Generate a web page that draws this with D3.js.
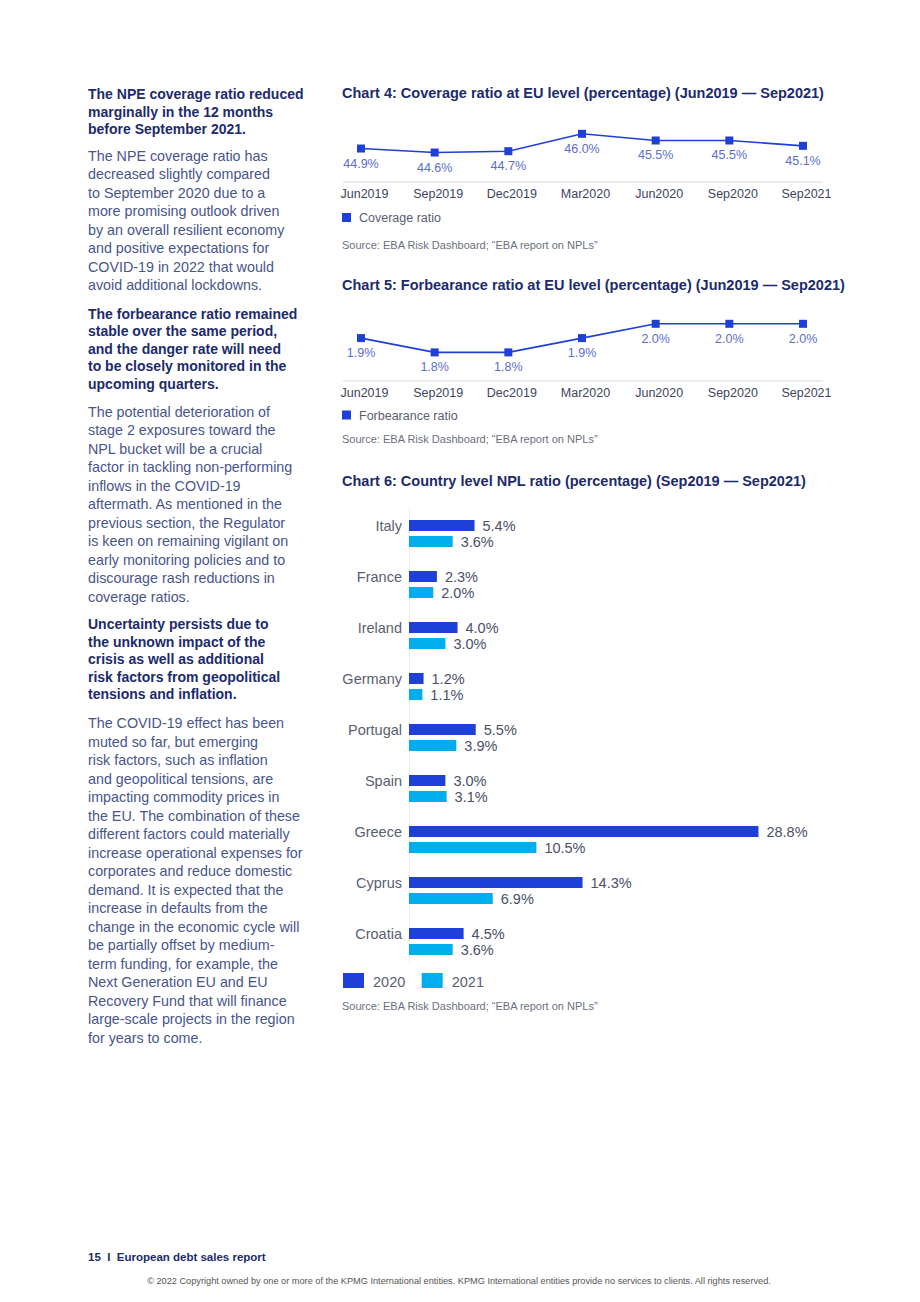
<!DOCTYPE html>
<html>
<head>
<meta charset="utf-8">
<script src="https://cdn.jsdelivr.net/npm/d3@7"></script>
<style>
  html, body { margin: 0; padding: 0; background: #fff; }
  svg { display: block; }
  text { font-family: "Liberation Sans", Arial, sans-serif; }
</style>
</head>
<body>
<svg id="page" width="920" height="1302"></svg>
<script>
// ---------- DATA ----------
const quarters = ["Jun2019", "Sep2019", "Dec2019", "Mar2020", "Jun2020", "Sep2020", "Sep2021"];
const coverageRatio = [44.9, 44.6, 44.7, 46.0, 45.5, 45.5, 45.1];
const forbearanceRatio = [1.9, 1.8, 1.8, 1.9, 2.0, 2.0, 2.0];
const countries = ["Italy", "France", "Ireland", "Germany", "Portugal", "Spain", "Greece", "Cyprus", "Croatia"];
const npl2020 = [5.4, 2.3, 4.0, 1.2, 5.5, 3.0, 28.8, 14.3, 4.5];
const npl2021 = [3.6, 2.0, 3.0, 1.1, 3.9, 3.1, 10.5, 6.9, 3.6];
const years = ["2020", "2021"];

const heading1 = ["The NPE coverage ratio reduced", "marginally in the 12 months", "before September 2021."];
const body1 = ["The NPE coverage ratio has", "decreased slightly compared", "to September 2020 due to a",
  "more promising outlook driven", "by an overall resilient economy", "and positive expectations for",
  "COVID-19 in 2022 that would", "avoid additional lockdowns."];
const heading2 = ["The forbearance ratio remained", "stable over the same period,", "and the danger rate will need",
  "to be closely monitored in the", "upcoming quarters."];
const body2 = ["The potential deterioration of", "stage 2 exposures toward the", "NPL bucket will be a crucial",
  "factor in tackling non-performing", "inflows in the COVID-19", "aftermath. As mentioned in the",
  "previous section, the Regulator", "is keen on remaining vigilant on", "early monitoring policies and to",
  "discourage rash reductions in", "coverage ratios."];
const heading3 = ["Uncertainty persists due to", "the unknown impact of the", "crisis as well as additional",
  "risk factors from geopolitical", "tensions and inflation."];
const body3 = ["The COVID-19 effect has been", "muted so far, but emerging", "risk factors, such as inflation",
  "and geopolitical tensions, are", "impacting commodity prices in", "the EU. The combination of these",
  "different factors could materially", "increase operational expenses for", "corporates and reduce domestic",
  "demand. It is expected that the", "increase in defaults from the", "change in the economic cycle will",
  "be partially offset by medium-", "term funding, for example, the", "Next Generation EU and EU",
  "Recovery Fund that will finance", "large-scale projects in the region", "for years to come."];

const source = "Source: EBA Risk Dashboard; \u201CEBA report on NPLs\u201D";

// ---------- STYLE ----------
const NAVY = "#1c2b6c";
const BODY = "#48558c";
const BLUE = "#1e3fd8";
const CYAN = "#00aeef";
const AXISTXT = "#3d4560";
const LBLBLUE = "#5a6dd0";
const GRAY = "#5a6072";
const SRC = "#6b7080";

const svg = d3.select("#page");

// ---------- LEFT COLUMN ----------
function block(lines, y0, step, opts) {
  svg.append("g").selectAll("text").data(lines).join("text")
    .attr("x", 88)
    .attr("y", (d, i) => y0 + i * step)
    .attr("fill", opts.color)
    .attr("font-size", opts.size)
    .attr("font-weight", opts.weight)
    .text(d => d);
}
const H = { color: NAVY, size: 14, weight: 700 };
const B = { color: BODY, size: 14.3, weight: 400 };
block(heading1, 99, 17.5, H);
block(body1, 161, 18.45, B);
block(heading2, 318.5, 17.5, H);
block(body2, 416.7, 18.5, B);
block(heading3, 629.3, 17.5, H);
block(body3, 728.3, 18.5, B);

// ---------- LINE CHARTS ----------
function lineChart(cfg) {
  const g = svg.append("g");
  g.append("text").attr("x", 342).attr("y", cfg.titleY)
    .attr("fill", NAVY).attr("font-size", 14.5).attr("font-weight", 700).text(cfg.title);

  const x = d3.scalePoint().domain(quarters).range([361, 803]);
  const y = d3.scaleLinear().domain(cfg.domain).range([cfg.axisY, cfg.axisY - cfg.domainPx]);

  // baseline axis
  const axis = g.append("g").attr("transform", `translate(0,${cfg.axisY})`)
    .call(d3.axisBottom(x).tickSize(0).tickPadding(7));
  axis.select(".domain").attr("d", `M343,0H823`).attr("stroke", "#e6e6e6").attr("stroke-width", 1.5);
  axis.selectAll(".tick text").attr("fill", AXISTXT).attr("font-size", 12.5)
    .attr("dx", 3)
    .attr("font-family", "\"Liberation Sans\", Arial, sans-serif");

  const data = quarters.map((q, i) => ({ q, v: cfg.values[i] }));
  g.append("path").datum(data)
    .attr("fill", "none").attr("stroke", BLUE).attr("stroke-width", 1.6)
    .attr("d", d3.line().x(d => x(d.q)).y(d => y(d.v)));
  g.selectAll("rect.m").data(data).join("rect").attr("class", "m")
    .attr("x", d => x(d.q) - 4).attr("y", d => y(d.v) - 4)
    .attr("width", 8).attr("height", 8).attr("fill", BLUE);
  g.selectAll("text.v").data(data).join("text").attr("class", "v")
    .attr("x", d => x(d.q)).attr("y", d => y(d.v) + 19)
    .attr("text-anchor", "middle").attr("fill", LBLBLUE).attr("font-size", 12.5)
    .text(d => d.v.toFixed(1) + "%");

  // legend
  g.append("rect").attr("x", 342).attr("y", cfg.legendY - 9).attr("width", 9).attr("height", 9).attr("fill", BLUE);
  g.append("text").attr("x", 359).attr("y", cfg.legendY).attr("fill", GRAY).attr("font-size", 12.5).text(cfg.legend);
  g.append("text").attr("x", 342).attr("y", cfg.sourceY).attr("fill", SRC).attr("font-size", 11).text(source);
}

lineChart({
  title: "Chart 4: Coverage ratio at EU level (percentage) (Jun2019 \u2014 Sep2021)",
  titleY: 98, axisY: 182, domain: [42.4, 47.0], domainPx: 61.6,
  values: coverageRatio, legend: "Coverage ratio", legendY: 222, sourceY: 249
});
lineChart({
  title: "Chart 5: Forbearance ratio at EU level (percentage) (Jun2019 \u2014 Sep2021)",
  titleY: 290, axisY: 381, domain: [1.6, 2.05], domainPx: 64.35,
  values: forbearanceRatio, legend: "Forbearance ratio", legendY: 419.5, sourceY: 443
});

// ---------- BAR CHART ----------
(function barChart() {
  const g = svg.append("g");
  g.append("text").attr("x", 342).attr("y", 486)
    .attr("fill", NAVY).attr("font-size", 14.5).attr("font-weight", 700)
    .text("Chart 6: Country level NPL ratio (percentage) (Sep2019 \u2014 Sep2021)");

  const x = d3.scaleLinear().domain([0, 30]).range([409, 773]);
  const y0 = d3.scaleBand().domain(countries).range([520, 955]).paddingInner(24 / 51).paddingOuter(0);
  const y1 = d3.scaleBand().domain(years).range([0, y0.bandwidth()]).paddingInner(5 / 16).paddingOuter(0);
  const color = d3.scaleOrdinal().domain(years).range([BLUE, CYAN]);

  g.append("line").attr("x1", 409.5).attr("x2", 409.5).attr("y1", 508).attr("y2", 962)
    .attr("stroke", "#ececec").attr("stroke-width", 1);

  const rows = countries.map((c, i) => ({ c, vals: [{ k: "2020", v: npl2020[i] }, { k: "2021", v: npl2021[i] }] }));
  const grp = g.selectAll("g.row").data(rows).join("g").attr("class", "row")
    .attr("transform", d => `translate(0,${y0(d.c)})`);

  grp.selectAll("rect").data(d => d.vals).join("rect")
    .attr("x", x(0)).attr("y", d => y1(d.k))
    .attr("width", d => x(d.v) - x(0)).attr("height", y1.bandwidth())
    .attr("fill", d => color(d.k));
  grp.selectAll("text.val").data(d => d.vals).join("text").attr("class", "val")
    .attr("x", d => x(d.v) + 8).attr("y", d => y1(d.k) + y1.bandwidth() / 2 + 5.5)
    .attr("fill", "#4a5068").attr("font-size", 14.5)
    .text(d => d.v.toFixed(1) + "%");
  grp.append("text").attr("x", 402).attr("y", y1("2020") + y1.bandwidth() / 2 + 5.5)
    .attr("text-anchor", "end").attr("fill", GRAY).attr("font-size", 14.5)
    .text(d => d.c);

  // legend
  const lg = g.selectAll("g.leg").data(years).join("g").attr("class", "leg")
    .attr("transform", (d, i) => `translate(${343 + i * 78.7},973)`);
  lg.append("rect").attr("width", 21).attr("height", 15).attr("fill", d => color(d));
  lg.append("text").attr("x", 30).attr("y", 14).attr("fill", GRAY).attr("font-size", 14.5).text(d => d);

  g.append("text").attr("x", 342).attr("y", 1010).attr("fill", SRC).attr("font-size", 11).text(source);
})();

// ---------- FOOTER ----------
svg.append("text").attr("x", 88).attr("y", 1261).attr("fill", NAVY).attr("font-size", 11.5)
  .attr("font-weight", 700).style("white-space", "pre").text("15  I  European debt sales report");
svg.append("text").attr("x", 459).attr("y", 1284).attr("text-anchor", "middle").attr("fill", "#555")
  .attr("font-size", 9.2)
  .text("\u00A9 2022 Copyright owned by one or more of the KPMG International entities. KPMG International entities provide no services to clients. All rights reserved.");
</script>
</body>
</html>
